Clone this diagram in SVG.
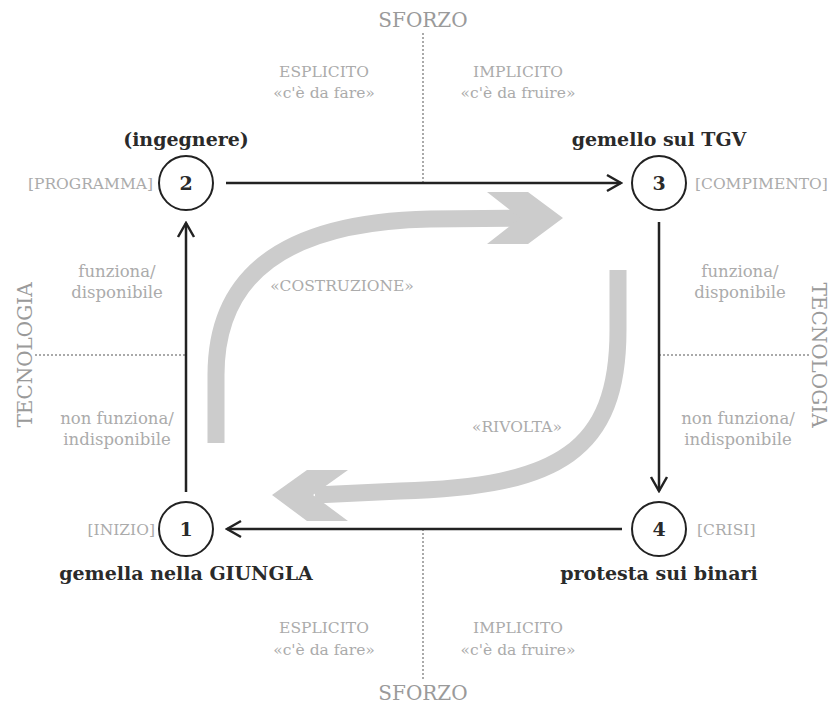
<svg xmlns="http://www.w3.org/2000/svg" width="835" height="704" viewBox="0 0 835 704">
<style>
.axis{font-family:"DejaVu Serif","Liberation Serif",serif;font-size:20px;fill:#9a9a9a;text-anchor:middle}
.g{font-family:"DejaVu Serif","Liberation Serif",serif;font-size:15.5px;fill:#ababab;text-anchor:middle}
.gs{font-family:"DejaVu Serif","Liberation Serif",serif;font-size:16.5px;fill:#ababab;text-anchor:middle}
.gl{font-family:"DejaVu Serif","Liberation Serif",serif;font-size:15.5px;fill:#ababab;text-anchor:start}
.gr{font-family:"DejaVu Serif","Liberation Serif",serif;font-size:15.5px;fill:#ababab;text-anchor:end}
.title{font-family:"DejaVu Serif","Liberation Serif",serif;font-size:19px;font-weight:bold;fill:#2a2a2a;text-anchor:middle}
.num{font-family:"DejaVu Serif","Liberation Serif",serif;font-size:19px;font-weight:bold;fill:#2a2a2a;text-anchor:middle}
.circ{fill:#fff;stroke:#222;stroke-width:2}
.dot{stroke:#aaa;stroke-width:2;stroke-dasharray:2 2;fill:none}
.edge{stroke:#222;stroke-width:2.5;fill:none;marker-end:url(#ah)}
.big{stroke:#cccccc;stroke-width:17;fill:none}
.bighead{fill:#cccccc}
</style>
<defs>
<marker id="ah" markerUnits="userSpaceOnUse" viewBox="-18 -10 20 20" refX="0" refY="0" markerWidth="20" markerHeight="20" orient="auto">
<path d="M-14,-8 L0,0 L-14,8" fill="none" stroke="#222" stroke-width="2.5"/>
</marker>
</defs>

<g id="axes">
<line class="dot" x1="423" y1="33" x2="423" y2="183"/>
<line class="dot" x1="423" y1="529" x2="423" y2="680"/>
<line class="dot" x1="35" y1="355" x2="186" y2="355"/>
<line class="dot" x1="659" y1="355" x2="810" y2="355"/>
<text class="axis" x="423" y="27">SFORZO</text>
<text class="axis" x="423" y="700">SFORZO</text>
<text class="axis" transform="translate(32,355) rotate(-90)">TECNOLOGIA</text>
<text class="axis" transform="translate(812,355) rotate(90)">TECNOLOGIA</text>
<text class="g" x="324" y="77">ESPLICITO</text>
<text class="g" x="324" y="98">«c'è da fare»</text>
<text class="g" x="518" y="77">IMPLICITO</text>
<text class="g" x="518" y="98">«c'è da fruire»</text>
<text class="g" x="324" y="633">ESPLICITO</text>
<text class="g" x="324" y="655">«c'è da fare»</text>
<text class="g" x="518" y="633">IMPLICITO</text>
<text class="g" x="518" y="655">«c'è da fruire»</text>
</g>

<g id="cycle-arrows">
<path class="big" d="M216,443 L216,375 C216,275 285,222 430,219 L522,218"/>
<polygon class="bighead" points="487,192 528,192 563,218 528,244 487,244 520,218"/>
<text class="g" x="342" y="291">«COSTRUZIONE»</text>
<path class="big" d="M618,270 L618,330 C618,450 560,487 400,491 L315,495"/>
<polygon class="bighead" points="348,470 307,470 272,495 307,521 348,521 313,495"/>
<text class="g" x="517" y="432">«RIVOLTA»</text>
</g>

<g id="connectors">
<line class="edge" x1="226" y1="183" x2="621" y2="183"/>
<line class="edge" x1="659" y1="222" x2="659" y2="491"/>
<line class="edge" x1="622" y1="529" x2="227" y2="529"/>
<line class="edge" x1="186" y1="492" x2="186" y2="223"/>
<text class="gs" x="117" y="277">funziona/</text>
<text class="gs" x="117" y="298">disponibile</text>
<text class="gs" x="117" y="424">non funziona/</text>
<text class="gs" x="117" y="445">indisponibile</text>
<text class="gs" x="740" y="277">funziona/</text>
<text class="gs" x="740" y="298">disponibile</text>
<text class="gs" x="738" y="424">non funziona/</text>
<text class="gs" x="738" y="445">indisponibile</text>
</g>

<g id="node-1">
<circle class="circ" cx="186" cy="529" r="27"/>
<text class="num" x="186" y="536">1</text>
<text class="gr" x="155" y="535">[INIZIO]</text>
<text class="title" x="186" y="580">gemella nella GIUNGLA</text>
</g>

<g id="node-2">
<circle class="circ" cx="186" cy="183" r="27"/>
<text class="num" x="186" y="190">2</text>
<text class="gr" x="153" y="189">[PROGRAMMA]</text>
<text class="title" x="186" y="146">(ingegnere)</text>
</g>

<g id="node-3">
<circle class="circ" cx="659" cy="183" r="27"/>
<text class="num" x="659" y="190">3</text>
<text class="gl" x="695" y="189">[COMPIMENTO]</text>
<text class="title" x="659" y="146">gemello sul TGV</text>
</g>

<g id="node-4">
<circle class="circ" cx="659" cy="529" r="27"/>
<text class="num" x="659" y="536">4</text>
<text class="gl" x="697" y="535">[CRISI]</text>
<text class="title" x="659" y="580">protesta sui binari</text>
</g>
</svg>
